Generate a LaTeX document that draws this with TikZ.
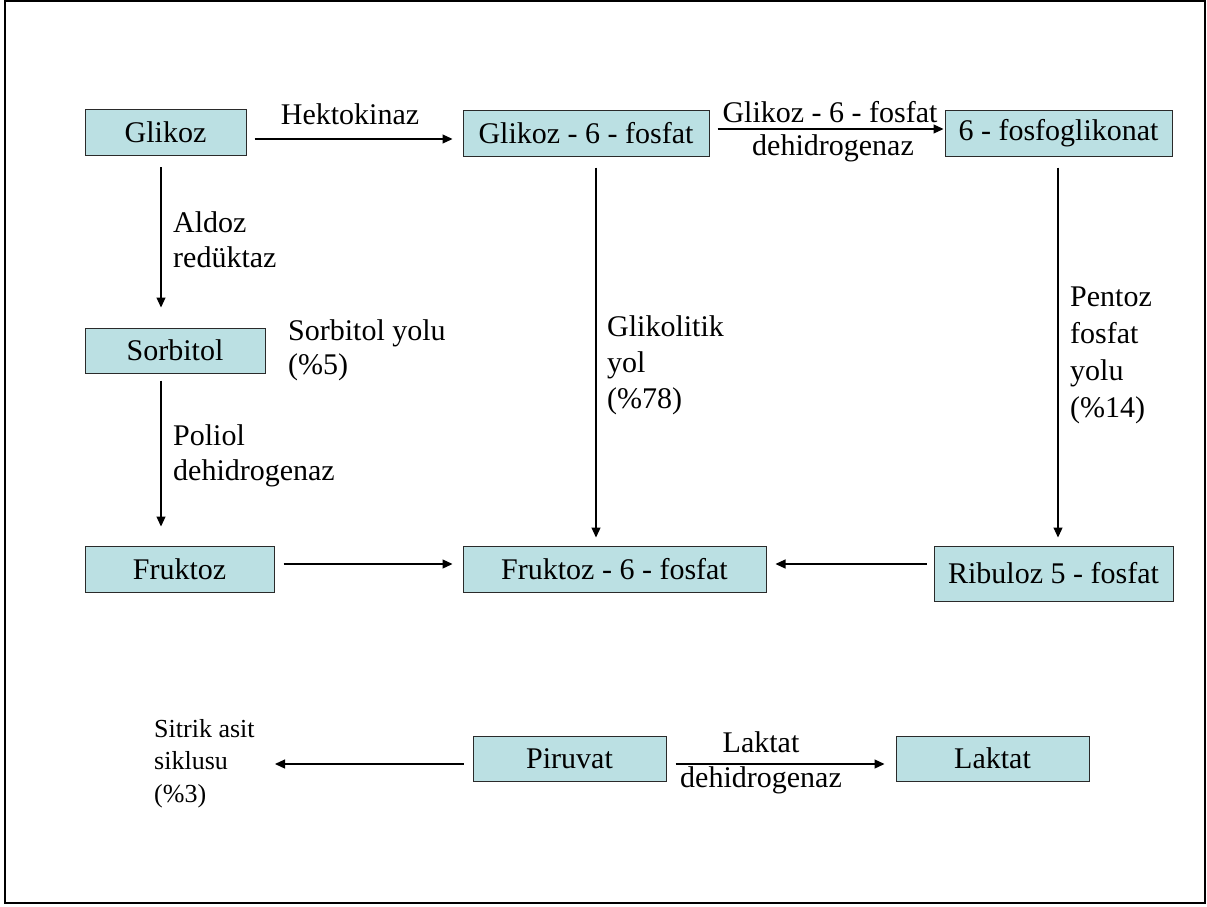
\documentclass[tikz,border=0pt]{standalone}
\usepackage{fontspec}
\setmainfont{Liberation Serif}
\usetikzlibrary{arrows.meta}
\definecolor{boxfill}{HTML}{BBE0E3}
\definecolor{boxline}{HTML}{2A2A2A}
\begin{document}
\begin{tikzpicture}[x=1pt,y=-1pt,
  every node/.style={font=\fontsize{30}{36}\selectfont},
  box/.style={draw=boxline, line width=1pt, fill=boxfill, inner sep=0pt,
              minimum height=46pt},
  lbl/.style={inner sep=0pt, align=left, anchor=base west},
  arr/.style={-{Triangle[length=10pt,width=9pt]}, line width=1.2pt}]

\useasboundingbox (0,0) rectangle (1207,907);
\draw[line width=2pt] (5,1) rectangle (1205,903);

% metabolite boxes
\node[box, minimum width=161pt] (glikoz)   at (165.5,132.5) {Glikoz};
\node[box, minimum width=246pt] (g6p)      at (586,133)     {Glikoz - 6 - fosfat};
\node[box, minimum width=227pt] (pg6)      at (1058.5,133)  {6 - fosfoglikonat};
\node[box, minimum width=180pt, minimum height=45pt] (sorbitol) at (175,350.5) {Sorbitol};
\node[box, minimum width=189pt] (fruktoz)  at (179.5,569)   {Fruktoz};
\node[box, minimum width=303pt] (f6p)      at (614.5,569)   {Fruktoz - 6 - fosfat};
\node[box, minimum width=239pt, minimum height=55pt] (ribuloz) at (1053.5,573.5) {Ribuloz 5 - fosfat};
\node[box, minimum width=193pt, minimum height=45pt] (piruvat) at (569.5,758.5) {Piruvat};
\node[box, minimum width=193pt, minimum height=45pt] (laktat)  at (992.5,758.5) {Laktat};

% enzyme and pathway labels (multi-line ones are placed by their last baseline)
\node[inner sep=0pt, anchor=base] (hk) at (350,124) {Hektokinaz};
\node[inner sep=0pt, anchor=base] (g6pdhA) at (830,122) {Glikoz - 6 - fosfat};
\node[inner sep=0pt, anchor=base] (g6pdhB) at (833,155) {dehidrogenaz};
\node[lbl, font=\fontsize{30}{35}\selectfont] (ar) at (173,267) {Aldoz\\redüktaz};
\node[lbl, font=\fontsize{30}{34}\selectfont] (sy) at (288,374) {Sorbitol yolu\\(\%5)};
\node[lbl, font=\fontsize{30}{35}\selectfont] (pd) at (173,480) {Poliol\\dehidrogenaz};
\node[lbl, font=\fontsize{30}{36}\selectfont] (gy) at (607,408) {Glikolitik\\yol\\(\%78)};
\node[lbl, font=\fontsize{30}{37}\selectfont] (py) at (1070,417) {Pentoz\\fosfat\\yolu\\(\%14)};
\node[inner sep=0pt, anchor=base] (ldhA) at (761,752) {Laktat};
\node[inner sep=0pt, anchor=base] (ldhB) at (761,787) {dehidrogenaz};
\node[lbl, font=\fontsize{26}{32.5}\selectfont] (sitrik) at (154,802) {Sitrik asit\\siklusu\\(\%3)};
\coordinate (citend) at (275,764);

% reactions
\draw[arr, shorten <=8pt, shorten >=10pt] ([yshift=-6.5pt]glikoz.east) -- ([yshift=-6pt]g6p.west);
\draw[arr, shorten <=8pt, shorten >=1pt] ([yshift=4pt]g6p.east) -- ([yshift=4pt]pg6.west);
\draw[arr, shorten <=11pt, shorten >=20pt] ([xshift=-4.5pt]glikoz.south) -- ([xshift=-14pt]sorbitol.north);
\draw[arr, shorten <=7pt, shorten >=19pt] ([xshift=-14pt]sorbitol.south) -- ([xshift=-18.5pt]fruktoz.north);
\draw[arr, shorten <=11pt, shorten >=8pt] ([xshift=10pt]g6p.south) -- ([xshift=-18.5pt]f6p.north);
\draw[arr, shorten <=11pt, shorten >=8pt] ([xshift=-0.5pt]pg6.south) -- ([xshift=4.5pt]ribuloz.north);
\draw[arr, shorten <=9pt, shorten >=10pt] ([yshift=5pt]fruktoz.east) -- ([yshift=5pt]f6p.west);
\draw[arr, shorten <=7pt, shorten >=9pt] ([yshift=9.5pt]ribuloz.west) -- ([yshift=5pt]f6p.east);
\draw[arr, shorten <=9pt, shorten >=11pt] ([yshift=-5.5pt]piruvat.east) -- ([yshift=-5.5pt]laktat.west);
\draw[arr, shorten <=9pt] ([yshift=-5.5pt]piruvat.west) -- (citend);
\end{tikzpicture}
\end{document}
